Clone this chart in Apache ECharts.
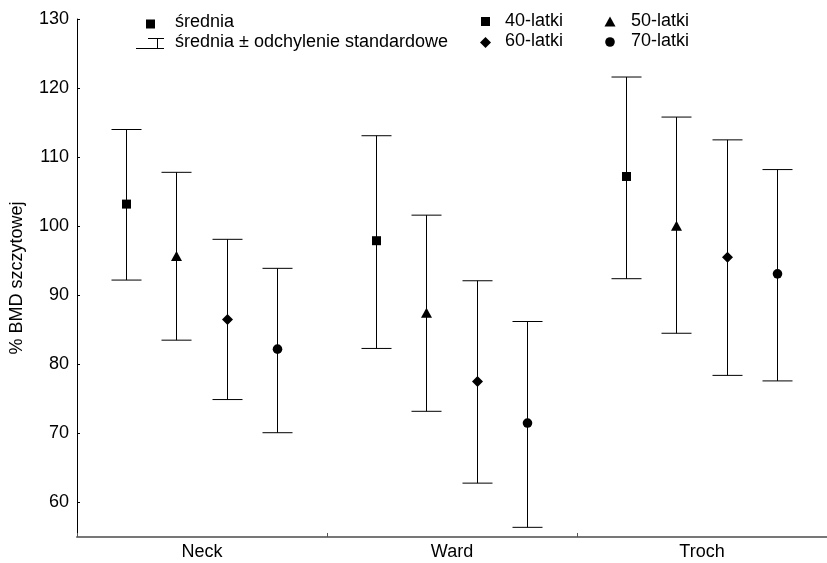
<!DOCTYPE html>
<html>
<head>
<meta charset="UTF-8">
<title>% BMD szczytowej</title>
<script src="https://cdn.jsdelivr.net/npm/echarts@6/dist/echarts.min.js"></script>
<style>
  html, body { margin: 0; padding: 0; background: #fff; }
  #main { width: 827px; height: 563px; }
</style>
</head>
<body>
<div id="main"></div>
<script>
// kategorie i wartości
var categories = ['Neck', 'Ward', 'Troch'];
var groupNames = ['40-latki', '50-latki', '60-latki', '70-latki'];
var yTicks = [60, 70, 80, 90, 100, 110, 120, 130];

// średnia, dolny i górny koniec (średnia ± SD) dla Neck, Ward, Troch
var mean40 = [103.2, 97.9, 107.2];
var low40  = [92.2, 82.3, 92.4];
var high40 = [114.0, 113.1, 121.6];

var mean50 = [95.6, 87.4, 100.0];
var low50  = [83.5, 73.2, 84.5];
var high50 = [107.8, 101.6, 115.8];

var mean60 = [86.5, 77.5, 95.5];
var low60  = [74.9, 62.8, 78.4];
var high60 = [98.1, 92.1, 112.5];

var mean70 = [82.2, 71.5, 93.1];
var low70  = [70.1, 56.4, 77.6];
var high70 = [93.9, 86.2, 108.2];

var means = [mean40, mean50, mean60, mean70];
var lows = [low40, low50, low60, low70];
var highs = [high40, high50, high60, high70];
var symbols = ['square', 'triangle', 'diamond', 'circle'];

var FONT = '"Liberation Sans", Arial, sans-serif';
var FS = 18;
var ink = '#000';

function markerShape(kind, x, y) {
  if (kind === 'square') {
    return { type: 'rect', shape: { x: x - 4.5, y: y - 4.5, width: 9, height: 9 }, style: { fill: ink } };
  }
  if (kind === 'triangle') {
    return { type: 'polygon', shape: { points: [[x, y - 5.5], [x + 5.5, y + 4.5], [x - 5.5, y + 4.5]] }, style: { fill: ink } };
  }
  if (kind === 'diamond') {
    return { type: 'polygon', shape: { points: [[x, y - 5.5], [x + 5.5, y], [x, y + 5.5], [x - 5.5, y]] }, style: { fill: ink } };
  }
  return { type: 'circle', shape: { cx: x, cy: y, r: 4.8 }, style: { fill: ink } };
}

function makeSeries(g) {
  var data = categories.map(function (c, i) {
    return [i, means[g][i], lows[g][i], highs[g][i]];
  });
  return {
    type: 'custom',
    name: groupNames[g],
    data: data,
    encode: { x: 0, y: [1, 2, 3] },
    renderItem: function (params, api) {
      var band = api.size([1, 0])[0];
      var off = (g - 1.5) * band * 0.201 - 0.5;
      var pm = api.coord([api.value(0), api.value(1)]);
      var pl = api.coord([api.value(0), api.value(2)]);
      var ph = api.coord([api.value(0), api.value(3)]);
      var x = Math.round(pm[0] + off) + 0.5;
      var capHalf = 15;
      var lineStyle = { stroke: ink, lineWidth: 1 };
      return {
        type: 'group',
        children: [
          { type: 'line', shape: { x1: x, y1: ph[1], x2: x, y2: pl[1] }, style: lineStyle },
          { type: 'line', shape: { x1: x - capHalf, y1: ph[1], x2: x + capHalf, y2: ph[1] }, style: lineStyle },
          { type: 'line', shape: { x1: x - capHalf, y1: pl[1], x2: x + capHalf, y2: pl[1] }, style: lineStyle },
          markerShape(symbols[g], x, pm[1])
        ]
      };
    }
  };
}

var legendFont = FS + 'px ' + FONT;

var chart = echarts.init(document.getElementById('main'));
chart.setOption({
  animation: false,
  backgroundColor: '#fff',
  grid: { left: 76, right: -7, top: 19, bottom: 26 },
  xAxis: {
    type: 'category',
    data: categories,
    axisLine: { lineStyle: { color: '#777', width: 2 } },
    axisTick: { show: true, inside: true, length: 4, lineStyle: { color: '#555' } },
    axisLabel: { color: ink, fontSize: FS, fontFamily: FONT, margin: 6 },
    splitLine: { show: false }
  },
  yAxis: {
    type: 'value',
    min: 55,
    max: 130,
    name: '% BMD szczytowej',
    nameLocation: 'middle',
    nameGap: 51,
    nameTextStyle: { color: ink, fontSize: FS, fontFamily: FONT },
    axisLine: { show: true, lineStyle: { color: ink, width: 1 } },
    axisTick: { show: true, inside: true, length: 3, customValues: yTicks, lineStyle: { color: ink } },
    axisLabel: { color: ink, fontSize: FS, fontFamily: FONT, margin: 8, customValues: yTicks },
    splitLine: { show: false }
  },
  series: [0, 1, 2, 3].map(makeSeries),
  graphic: [
    // legenda po lewej
    { type: 'rect', shape: { x: 146, y: 19.5, width: 9, height: 9 }, style: { fill: ink } },
    { type: 'text', left: 175, top: 13, style: { text: 'średnia', fill: ink, font: legendFont } },
    { type: 'line', shape: { x1: 148, y1: 38.5, x2: 164, y2: 38.5 }, style: { stroke: ink, lineWidth: 1 } },
    { type: 'line', shape: { x1: 157.5, y1: 38.5, x2: 157.5, y2: 48.5 }, style: { stroke: ink, lineWidth: 1 } },
    { type: 'line', shape: { x1: 136, y1: 48.5, x2: 164, y2: 48.5 }, style: { stroke: ink, lineWidth: 1 } },
    { type: 'text', left: 175, top: 33, style: { text: 'średnia ± odchylenie standardowe', width: 276, overflow: 'truncate', ellipsis: '', fill: ink, font: legendFont } },
    // legenda po prawej
    { type: 'rect', shape: { x: 481, y: 17, width: 9, height: 9 }, style: { fill: ink } },
    { type: 'text', left: 505, top: 12, style: { text: groupNames[0], fill: ink, font: legendFont } },
    { type: 'polygon', shape: { points: [[610, 16.5], [615.5, 26.5], [604.5, 26.5]] }, style: { fill: ink } },
    { type: 'text', left: 631, top: 12, style: { text: groupNames[1], fill: ink, font: legendFont } },
    { type: 'polygon', shape: { points: [[485.5, 37], [491, 42.5], [485.5, 48], [480, 42.5]] }, style: { fill: ink } },
    { type: 'text', left: 505, top: 32, style: { text: groupNames[2], fill: ink, font: legendFont } },
    { type: 'circle', shape: { cx: 610, cy: 42, r: 4.8 }, style: { fill: ink } },
    { type: 'text', left: 631, top: 32, style: { text: groupNames[3], fill: ink, font: legendFont } }
  ]
});
</script>
</body>
</html>
